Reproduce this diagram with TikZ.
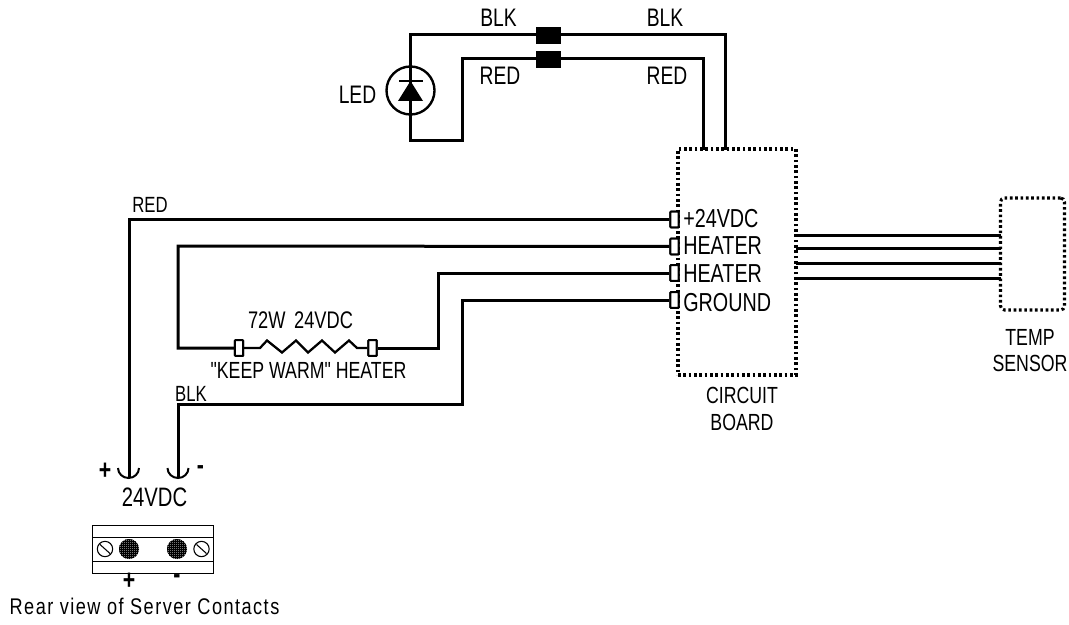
\documentclass[tikz,border=0pt]{standalone}
\usepackage{fontspec}
\newfontfamily\condf[FakeStretch=0.76]{Liberation Sans}
\newfontfamily\wideish[FakeStretch=0.8,LetterSpace=6.5]{Liberation Sans}
\usetikzlibrary{calc}
\tikzset{
  wire/.style={line width=2.25pt,line join=miter,line cap=butt},
  thinline/.style={line width=0.7pt},
  lab/.style={inner sep=0pt,anchor=center,text=black,align=center,font=\condf\fontsize{#1}{#1}\selectfont},
  lab/.default=18,
  signlab/.style={inner sep=0pt,anchor=center,text=black,font=\condf\fontsize{21}{21}\selectfont\bfseries},
  term/.style={draw,line width=1.5pt,fill=white,inner sep=0pt,minimum width=6.2pt,minimum height=11.8pt,rounded corners=0.5pt},
  plug/.style={fill=black,inner sep=0pt,minimum width=18.7pt,minimum height=12.7pt},
  dotbox/.style={draw,line width=2.3pt,dash pattern=on 2pt off 2pt,inner sep=0pt,fill=white},
  screw/.style={circle,draw,line width=0.8pt,inner sep=0pt,minimum size=11.5pt,fill=white},
  stud/.style={circle,inner sep=0pt,minimum size=15pt,fill=black!55,
    path picture={
      \foreach \d in {-10,-8,...,10}{
        \draw[line width=0.5pt,black] ($(path picture bounding box.center)+(\d,-11)$) -- ++(0,22);
        \draw[line width=0.5pt,black] ($(path picture bounding box.center)+(-11,\d)$) -- ++(22,0);
      }}},
}
\begin{document}
\begin{tikzpicture}[x=0.75pt,y=-0.75pt]
\useasboundingbox (0,0) rectangle (1069,624);
% junctions
\coordinate (tl) at (410,34.5);
\coordinate (tr) at (725,34.5);
\coordinate (rl) at (462,59);
\coordinate (rr) at (703,59);
\coordinate (bl) at (410,141);
\coordinate (br) at (462,141);
\coordinate (boardA) at (725,150);
\coordinate (boardB) at (703,150);
\coordinate (wl) at (129,219.5);
\coordinate (hl) at (178,246);
\coordinate (hb) at (178,348);
\coordinate (kt) at (438,273);
\coordinate (kb) at (438,348);
\coordinate (gt) at (462,300);
\coordinate (gb) at (462,404);
\coordinate (gl) at (178,404);
\coordinate (cupA) at (129,478);
\coordinate (cupB) at (178,478);
% boxes
\node[dotbox,minimum width=88.5pt,minimum height=169.5pt] (board) at (737,262) {};
\node[dotbox,rounded corners=3pt,minimum width=48pt,minimum height=84pt] (sensor) at (1032.5,254) {};
% wires top
\draw[wire] (boardA) -- (tr) -- (tl) -- (bl) -- (br) -- (rl) -- (rr) -- (boardB);
\node[plug] (p1) at (548.5,35.5) {};
\node[plug] (p2) at (548.5,59.5) {};
% LED
\node[circle,draw,line width=1.8pt,fill=white,inner sep=0pt,minimum size=36pt] (led) at (410.5,90.5) {};
\draw[wire] (led.north) -- (led.south);
\fill (410.5,81) coordinate (apex) -- (423,101) -- (398,101) -- cycle;
\draw[line width=1.5pt] (399,81) -- (423,81);
% wires left
\node[term] (t1) at (674.5,219.5) {};
\node[term] (t2) at (674.5,246.5) {};
\node[term] (t3) at (674.5,273) {};
\node[term] (t4) at (674.5,300) {};
\node[term] (h1) at (239,348) {};
\node[term] (h2) at (372.5,348) {};
\draw[wire] (t1) -- (wl) -- (cupA);
\draw[wire] (t2) -- (hl) -- (hb) -- (h1);
\draw[wire] (t3) -- (kt) -- (kb) -- (h2);
\draw[wire] (t4) -- (gt) -- (gb) -- (gl) -- (cupB);
\node[term] at (t1) {};\node[term] at (t2) {};\node[term] at (t3) {};\node[term] at (t4) {};
\node[term] at (h1) {};\node[term] at (h2) {};
\draw[line width=1.7pt,line join=miter] (h1.east) -- (260,348) -- (267,340.5) -- (282,352.5) -- (296,340.5) -- (308,352.5) -- (322,340.5) -- (335,352.5) -- (349,340.5) -- (357,348) -- (h2.west);
% cups
\draw[line width=1.5pt] (118,468) arc[start angle=180,end angle=360,x radius=10.5,y radius=-10];
\draw[line width=1.5pt] (167.5,468) arc[start angle=180,end angle=360,x radius=10.5,y radius=-10];
% sensor wires
\foreach \yy/\n in {235/a,248.7/b,263/c,278/d}{
  \coordinate (bo\n) at (796,\yy);
  \coordinate (se\n) at (1001,\yy);
  \draw[wire] (bo\n) -- (se\n);
}
% labels
\node[lab=19] (l1) at (498.5,18) {BLK};
\node[lab=19] (l2) at (665,18) {BLK};
\node[lab=19] (l3) at (500,76) {RED};
\node[lab=19] (l4) at (667,76) {RED};
\node[lab=19] (l5) at (357.5,95) {LED};
\node[lab=16.5] (l6) at (150,205) {RED};
\node[lab=16.5] (l7) at (191,394) {BLK};
\node[lab=18] (l8) at (300.5,320) {72W\hspace{6.5pt}24VDC};
\node[lab=17.5] (l9) at (308.5,370) {"KEEP WARM" HEATER};
\node[lab=19.5,anchor=west] (b1) at (683,219) {+24VDC};
\node[lab=19.5,anchor=west] (b2) at (683,246) {HEATER};
\node[lab=19.5,anchor=west] (b3) at (683,274) {HEATER};
\node[lab=19.5,anchor=west] (b4) at (683,303) {GROUND};
\node[lab=17.5] (l10) at (742,409) {CIRCUIT\\[3pt]BOARD};
\node[lab=17.5] (l11) at (1030,351) {TEMP\\[2pt]SENSOR};
\node[lab=20] (l12) at (154.5,497) {24VDC};
\node[signlab] (pa) at (105,471) {+};
\node[signlab] (ma) at (200.5,470) {-};
\node[signlab] (pb) at (129,581) {+};
\node[signlab] (mb) at (177,579) {-};
\node[inner sep=0pt,font=\wideish\fontsize{17}{17}\selectfont] (rear) at (144.5,606) {Rear view of Server Contacts};
% contact block
\draw[thinline] (92.7,525) rectangle (213,573);
\draw[thinline] (92.7,537) -- (213,537);
\draw[thinline] (92.7,561) -- (213,561);
\node[screw] (s1) at (105,549) {};
\node[screw] (s2) at (201.5,549) {};
\draw[line width=0.8pt] (100,544.5) -- (110,553.5);
\draw[line width=0.8pt] (196.5,544.5) -- (206.5,553.5);
\node[stud] (c1) at (129,549) {};
\node[stud] (c2) at (177,549) {};
\end{tikzpicture}
\end{document}
